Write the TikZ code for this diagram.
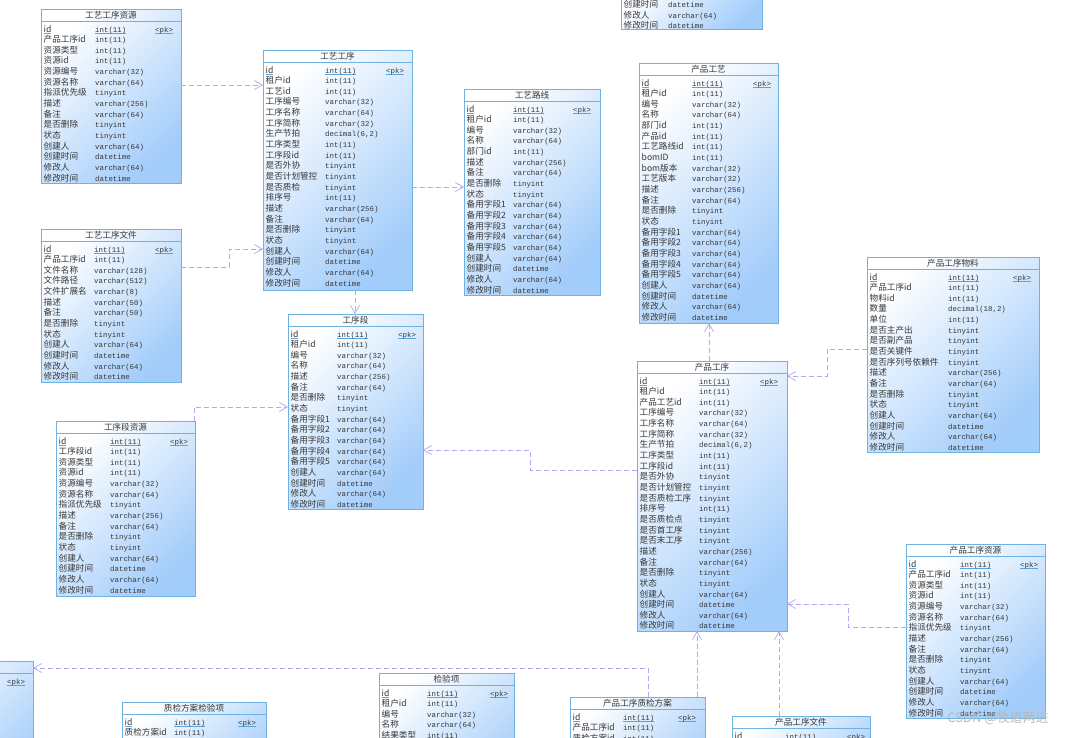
\documentclass[tikz,border=0pt]{standalone}
\usepackage{fontspec}
\setmainfont{Noto Sans CJK SC}
\setmonofont{Liberation Mono}
\usetikzlibrary{arrows.meta}
\definecolor{tline}{RGB}{110,178,225}
\definecolor{tfill}{RGB}{162,204,250}
\definecolor{txt}{RGB}{55,55,55}
\definecolor{fkcol}{RGB}{178,168,240}
\definecolor{pkline}{RGB}{90,165,225}
\newcommand{\keyul}[1]{\setbox0\hbox{#1}\rlap{\color{pkline}\rule[-1.8pt]{\wd0}{0.5pt}}\box0}

\begin{document}
\begin{tikzpicture}[x=1pt,y=-1pt,
  tbl/.style={draw=tline, line width=0.8pt, top color=white, bottom color=tfill, shading angle=45, anchor=north west, inner sep=0pt, outer sep=0pt},
  tblline/.style={draw=tline, line width=0.8pt},
  ttl/.style={font=\fontsize{8.6}{10}\selectfont, text=txt, inner sep=0pt, anchor=base},
  fld/.style={font=\fontsize{8.6}{10}\selectfont, text=txt, inner sep=0pt, anchor=base west},
  typ/.style={font=\ttfamily\fontsize{7.4}{9}\selectfont, text=txt, inner sep=0pt, anchor=base west},
  fk/.style={draw=fkcol, line width=0.7pt, dash pattern=on 5pt off 3pt, -{Straight Barb[length=8pt,width=9pt]}}]
\useasboundingbox (0,0) rectangle (1080,737);
\fill[white] (0,0) rectangle (1080,737);
% name, left, top, right, bottom, title, type column, pk column, rows
\newcommand{\ertable}[9]{%
  \node[tbl, minimum width={(#4-#2)*1pt}, minimum height={(#5-#3)*1pt}] (#1) at (#2,#3) {};
  \draw[tblline] ({#2},{#3+12}) -- ({#4},{#3+12});
  \node[ttl] (#1-t) at ({(#2+#4)/2},{#3+9.8}) {#6};
  \foreach \fld/\typ [count=\i] in {#9} {
    \ifnum\i=1 \ifnum#8>0 \def\wrap{\keyul}\else\def\wrap{}\fi\else\def\wrap{}\fi
    \node[fld] (#1-n\i) at ({#2+2.5},{#3+23+(\i-1)*10.65}) {\wrap{\fld}};
    \node[typ] (#1-y\i) at ({#2+#7},{#3+23+(\i-1)*10.65}) {\wrap{\typ}};
  }
  \ifnum#8>0 \node[typ] (#1-pk) at ({#2+#8},{#3+23}) {\keyul{<pk>}};\fi
}
\begin{scope}
\clip (0,0) rectangle (1080,737);

\ertable{top}{621}{-15.5}{762}{29}{}{47}{0}{
  创建时间/datetime, 修改人/varchar(64), 修改时间/datetime}

\ertable{gygxzy}{41}{9}{181}{183}{工艺工序资源}{54}{114}{
  id/int(11), 产品工序id/int(11), 资源类型/int(11), 资源id/int(11),
  资源编号/varchar(32), 资源名称/varchar(64), 指派优先级/tinyint,
  描述/varchar(256), 备注/varchar(64), 是否删除/tinyint, 状态/tinyint,
  创建人/varchar(64), 创建时间/datetime, 修改人/varchar(64), 修改时间/datetime}

\ertable{gygx}{263}{50}{412}{290}{工艺工序}{62}{123}{
  id/int(11), 租户id/int(11), 工艺id/int(11), 工序编号/varchar(32),
  工序名称/varchar(64), 工序简称/varchar(32), 生产节拍/{decimal(6,2)},
  工序类型/int(11), 工序段id/int(11), 是否外协/tinyint, 是否计划管控/tinyint,
  是否质检/tinyint, 排序号/int(11), 描述/varchar(256), 备注/varchar(64),
  是否删除/tinyint, 状态/tinyint, 创建人/varchar(64), 创建时间/datetime,
  修改人/varchar(64), 修改时间/datetime}

\ertable{gylx}{464}{89}{600}{295}{工艺路线}{49}{109}{
  id/int(11), 租户id/int(11), 编号/varchar(32), 名称/varchar(64), 部门id/int(11),
  描述/varchar(256), 备注/varchar(64), 是否删除/tinyint, 状态/tinyint,
  备用字段1/varchar(64), 备用字段2/varchar(64), 备用字段3/varchar(64),
  备用字段4/varchar(64), 备用字段5/varchar(64), 创建人/varchar(64),
  创建时间/datetime, 修改人/varchar(64), 修改时间/datetime}

\ertable{cpgy}{639}{63}{778}{323}{产品工艺}{53}{114}{
  id/int(11), 租户id/int(11), 编号/varchar(32), 名称/varchar(64), 部门id/int(11),
  产品id/int(11), 工艺路线id/int(11), bomID/int(11), bom版本/varchar(32),
  工艺版本/varchar(32), 描述/varchar(256), 备注/varchar(64), 是否删除/tinyint,
  状态/tinyint, 备用字段1/varchar(64), 备用字段2/varchar(64), 备用字段3/varchar(64),
  备用字段4/varchar(64), 备用字段5/varchar(64), 创建人/varchar(64),
  创建时间/datetime, 修改人/varchar(64), 修改时间/datetime}

\ertable{cpgxwl}{867}{257}{1039}{452}{产品工序物料}{81}{146}{
  id/int(11), 产品工序id/int(11), 物料id/int(11), 数量/{decimal(18,2)}, 单位/int(11),
  是否主产出/tinyint, 是否副产品/tinyint, 是否关键件/tinyint, 是否序列号依赖件/tinyint,
  描述/varchar(256), 备注/varchar(64), 是否删除/tinyint, 状态/tinyint,
  创建人/varchar(64), 创建时间/datetime, 修改人/varchar(64), 修改时间/datetime}

\ertable{gygxwj}{41}{229}{181}{382}{工艺工序文件}{53}{114}{
  id/int(11), 产品工序id/int(11), 文件名称/varchar(128), 文件路径/varchar(512),
  文件扩展名/varchar(8), 描述/varchar(50), 备注/varchar(50), 是否删除/tinyint,
  状态/tinyint, 创建人/varchar(64), 创建时间/datetime, 修改人/varchar(64),
  修改时间/datetime}

\ertable{gxd}{288}{314}{423}{509}{工序段}{49}{110}{
  id/int(11), 租户id/int(11), 编号/varchar(32), 名称/varchar(64), 描述/varchar(256),
  备注/varchar(64), 是否删除/tinyint, 状态/tinyint, 备用字段1/varchar(64),
  备用字段2/varchar(64), 备用字段3/varchar(64), 备用字段4/varchar(64),
  备用字段5/varchar(64), 创建人/varchar(64), 创建时间/datetime,
  修改人/varchar(64), 修改时间/datetime}

\ertable{gxdzy}{56}{421}{195}{596}{工序段资源}{54}{114}{
  id/int(11), 工序段id/int(11), 资源类型/int(11), 资源id/int(11),
  资源编号/varchar(32), 资源名称/varchar(64), 指派优先级/tinyint,
  描述/varchar(256), 备注/varchar(64), 是否删除/tinyint, 状态/tinyint,
  创建人/varchar(64), 创建时间/datetime, 修改人/varchar(64), 修改时间/datetime}

\ertable{cpgx}{637}{361}{787}{631}{产品工序}{62}{123}{
  id/int(11), 租户id/int(11), 产品工艺id/int(11), 工序编号/varchar(32),
  工序名称/varchar(64), 工序简称/varchar(32), 生产节拍/{decimal(6,2)},
  工序类型/int(11), 工序段id/int(11), 是否外协/tinyint, 是否计划管控/tinyint,
  是否质检工序/tinyint, 排序号/int(11), 是否质检点/tinyint, 是否首工序/tinyint,
  是否末工序/tinyint, 描述/varchar(256), 备注/varchar(64), 是否删除/tinyint,
  状态/tinyint, 创建人/varchar(64), 创建时间/datetime, 修改人/varchar(64),
  修改时间/datetime}

\ertable{cpgxzy}{906}{544}{1045}{718}{产品工序资源}{54}{114}{
  id/int(11), 产品工序id/int(11), 资源类型/int(11), 资源id/int(11),
  资源编号/varchar(32), 资源名称/varchar(64), 指派优先级/tinyint,
  描述/varchar(256), 备注/varchar(64), 是否删除/tinyint, 状态/tinyint,
  创建人/varchar(64), 创建时间/datetime, 修改人/varchar(64), 修改时间/datetime}

\ertable{left}{-107}{661}{33}{800}{}{54}{114}{{}/{}}

\ertable{zjfajyx}{122}{702}{266}{800}{质检方案检验项}{52}{116}{
  id/int(11), 质检方案id/int(11)}

\ertable{jyx}{379}{673}{514}{800}{检验项}{48}{111}{
  id/int(11), 租户id/int(11), 编号/varchar(32), 名称/varchar(64), 结果类型/int(11)}

\ertable{cpgxzjfa}{570}{697}{705}{800}{产品工序质检方案}{53}{108}{
  id/int(11), 产品工序id/int(11), 质检方案id/int(11)}

\ertable{cpgxwj}{732}{716}{870}{800}{产品工序文件}{53}{115}{id/int(11)}

% references
\draw[fk] (gygxzy.east |- 0,85) -- (gygx.west |- 0,85);
\draw[fk] (gygxwj.east |- 0,267) -| (229,249) -- (gygx.west |- 0,249);
\draw[fk] (gygx.east |- 0,187) -- (gylx.west |- 0,187);
\draw[fk] (gygx.south -| 355,0) -- (gxd.north -| 355,0);
\draw[fk] (gxdzy.north -| 194,0) |- (gxd.west |- 0,407);
\draw[fk] (cpgx.west |- 0,470) -| (530,450) -- (gxd.east |- 0,450);
\draw[fk] (cpgx.north -| 709,0) -- (cpgy.south -| 709,0);
\draw[fk] (cpgxwl.west |- 0,349) -| (827,376) -- (cpgx.east |- 0,376);
\draw[fk] (cpgxzy.west |- 0,627) -| (848,604) -- (cpgx.east |- 0,604);
\draw[fk] (cpgxwj.north -| 779,0) -- (cpgx.south -| 779,0);
\draw[fk] (cpgxzjfa.north -| 697,0) -- (cpgx.south -| 697,0);
\draw[fk] (cpgxzjfa.north -| 648,0) |- (left.east |- 0,668);

\node[font=\fontsize{13}{15}\selectfont, text=gray!55, inner sep=0pt] (wm) at (998,718) {CSDN @牧道两进};
\end{scope}
\end{tikzpicture}
\end{document}
